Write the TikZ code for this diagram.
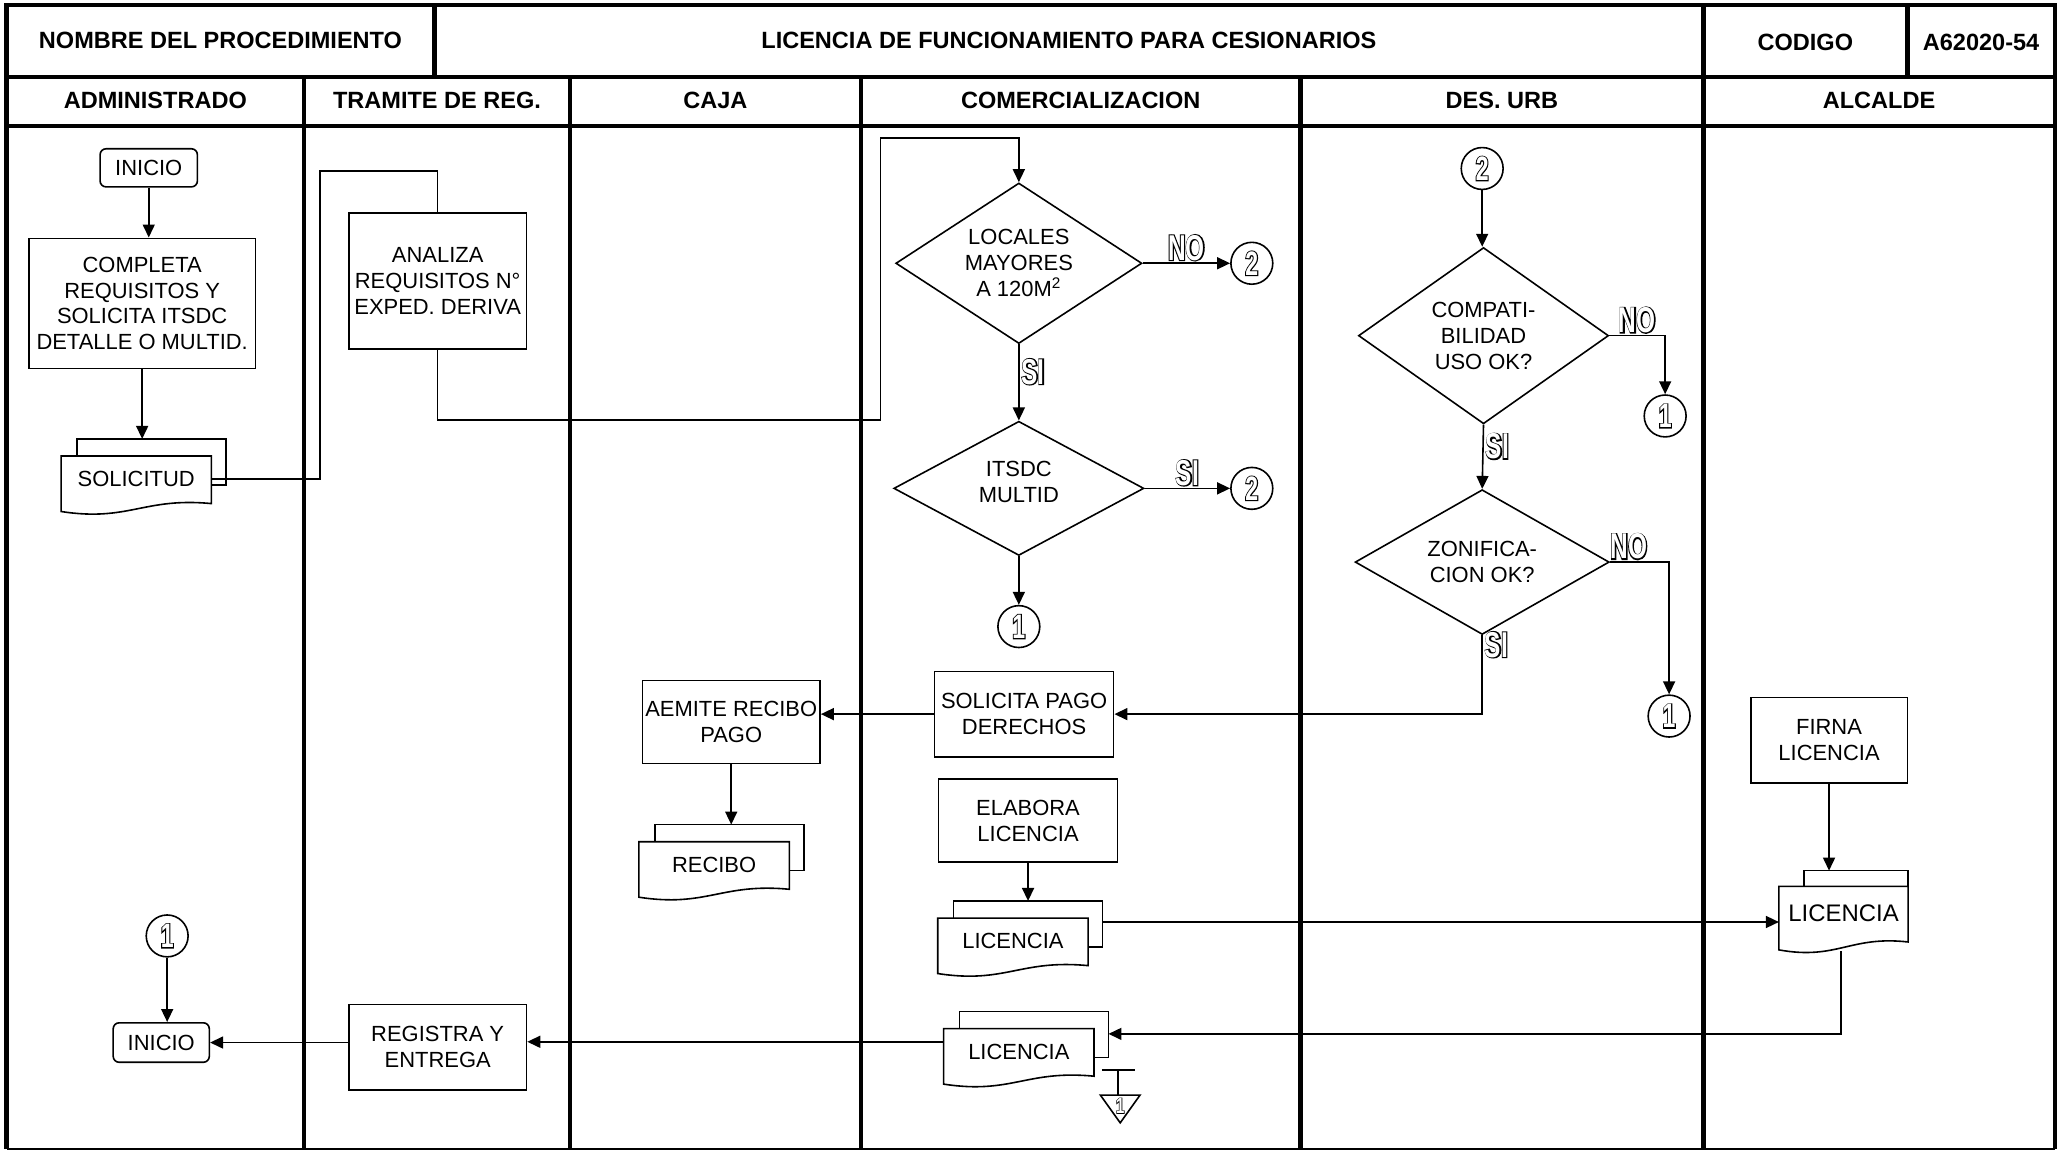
\documentclass[tikz,border=0pt]{standalone}
\usepackage{fontspec}
\setmainfont{Liberation Sans}
\usetikzlibrary{shapes.geometric,arrows.meta,calc}

% letras huecas (SI / NO / conectores)
\newfontfamily\hollowout{Liberation Sans}[FakeStretch=0.68,FakeBold=6]
\newfontfamily\hollowin{Liberation Sans}[FakeStretch=0.68]
\newcommand\hollow[1]{\makebox[0pt][l]{\hollowout\bfseries #1}{\color{white}\hollowin\bfseries #1}}

% hoja delantera del documento (borde ondulado)
\newcommand\docfront[1]{%
  \draw (#1.north west) -- (#1.north east) -- ($(#1.south east)+(0,1)$)
    .. controls ($(#1.south)!0.1!(#1.south east)+(0,-4)$) and ($(#1.south)!0.1!(#1.south west)+(0,15)$) .. ($(#1.south west)+(0,7)$) -- cycle;}
% hoja de atras
\newcommand\docback[1]{%
  \draw ($(#1.north west)+(12,0)$) -- ++(0,-13) -| ($(#1.north east)+(11,22)$) -- ($(#1.north east)+(0,22)$);}

\begin{document}
\begin{tikzpicture}[x=0.66pt,y=-0.66pt,line width=0.8pt,
  body/.style={font=\fontsize{11}{13}\selectfont},
  head/.style={font=\bfseries\fontsize{11.8}{14}\selectfont},
  box/.style={draw,align=center,inner sep=0pt,body},
  term/.style={box,rounded corners=3pt},
  dec/.style={draw,diamond,inner sep=0pt},
  conn/.style={draw,circle,minimum size=21pt,inner sep=0pt,font=\fontsize{17}{17}\selectfont},
  docu/.style={minimum width=74.6pt,minimum height=22.4pt,inner sep=0pt,body},
  yn/.style={font=\fontsize{18}{18}\selectfont,inner sep=1pt},
  arr/.style={-{Triangle[length=6.5pt,width=6pt]}},
  heavy/.style={line width=2.2pt}]
\useasboundingbox (0,0) rectangle (1568,874);

% marco y carriles
\draw[heavy] (5,873) -- (5,4) -- (1561,4) -- (1561,873);
\draw (5,873) -- (1561,873);
\draw[heavy] (5,58.5) -- (1561,58.5) (5,95.5) -- (1561,95.5);
\draw[heavy] (330,4) -- (330,58.5) (1449,4) -- (1449,58.5) (1294,4) -- (1294,873);
\draw[heavy] (231,58.5) -- (231,873) (433,58.5) -- (433,873) (654,58.5) -- (654,873) (988,58.5) -- (988,873);

% cabecera
\node[head] (hnom) at (167.5,31) {NOMBRE DEL PROCEDIMIENTO};
\node[head] (htit) at (812,31) {LICENCIA DE FUNCIONAMIENTO PARA CESIONARIOS};
\node[head] (hcod) at (1371.5,32) {CODIGO};
\node[head] (hnum) at (1505,32) {A62020-54};
\node[head] (hadm) at (118,76) {ADMINISTRADO};
\node[head] (htra) at (332,76) {TRAMITE DE REG.};
\node[head] (hcaj) at (543.5,76) {CAJA};
\node[head] (hcom) at (821,76) {COMERCIALIZACION};
\node[head] (hdes) at (1141,76) {DES. URB};
\node[head] (halc) at (1427.5,76) {ALCALDE};

% administrado
\node[term,minimum width=48.8pt,minimum height=19.1pt] (ini1) at (113,127.5) {INICIO};
\node[box,minimum width=113.5pt,minimum height=65.3pt] (comp) at (108,230.5) {COMPLETA\\REQUISITOS Y\\SOLICITA ITSDC\\DETALLE O MULTID.};
\node[docu] (sol) at (103.5,364) {SOLICITUD};
\docback{sol}
\docfront{sol}
\coordinate (solb) at ($(sol.north west)+(12,-13)$);
\draw[arr] (ini1) -- (ini1 |- comp.north);
\draw[arr] (comp.south) -- (comp.south |- solb);

\node[conn] (c1d) at (127,711) {\hollow{1}};
\node[term,minimum width=48.2pt,minimum height=19.8pt] (ini2) at (122.5,792) {INICIO};
\draw[arr] (c1d) -- (c1d |- ini2.north);

% tramite
\node[box,minimum width=89.1pt,minimum height=68pt] (anal) at (332.5,213.5) {ANALIZA\\REQUISITOS N°\\EXPED. DERIVA};
\node[box,minimum width=89.1pt,minimum height=42.9pt] (reg) at (332.5,795.5) {REGISTRA Y\\ENTREGA};
\draw (sol.east) -| (243,130) -| (anal.north);
\draw[arr] (reg.west |- ini2) -- (ini2.east);

% comercializacion
\node[dec,minimum width=123.4pt,minimum height=80.5pt,label={[body,align=center]center:LOCALES\\MAYORES\\A 120M\textsuperscript{2}}] (loc) at (774,200) {};
\node[dec,minimum width=125.4pt,minimum height=67.3pt,label={[body,align=center,yshift=3pt]center:ITSDC\\MULTID}] (its) at (774,371) {};
\node[conn] (c2a) at (951,200) {\hollow{2}};
\node[conn] (c2b) at (951,371) {\hollow{2}};
\node[conn] (c1a) at (774,476) {\hollow{1}};
\draw[arr] (anal.south) |- (669,319) -- (669,105) -| (loc.north);
\draw[arr] (loc.east) -- node[yn,above] {\hollow{NO}} (c2a);
\draw[arr] (loc.south) -- node[yn,right,pos=0.36] {\hollow{SI}} (its.north);
\draw[arr] (its.east) -- node[yn,above] {\hollow{SI}} (c2b);
\draw[arr] (its.south) -- (c1a);

\node[box,minimum width=89.8pt,minimum height=42.9pt] (pago) at (778,542.5) {SOLICITA PAGO\\DERECHOS};
\node[box,minimum width=89.8pt,minimum height=41.6pt] (elab) at (781,623.5) {ELABORA\\LICENCIA};
\node[docu] (lic1) at (769.5,715) {LICENCIA};
\docback{lic1}
\docfront{lic1}
\coordinate (lic1b) at ($(lic1.north west)+(12,-13)$);
\draw[arr] (elab.south) -- (elab.south |- lic1b);
\node[docu] (lic2) at (774,799) {LICENCIA};
\docback{lic2}
\docfront{lic2}

% conector fuera de pagina
\draw (837,813) -- (862,813) (849.5,813) -- (849.5,832);
\draw (836,832) -- (866,832) -- (851,853) -- cycle;
\node[font=\fontsize{11}{11}\selectfont,inner sep=0pt] (fin) at (851,840) {\hollow{1}};

% caja
\node[box,minimum width=89.1pt,minimum height=41.6pt] (emite) at (555.5,548.5) {AEMITE RECIBO\\PAGO};
\node[docu] (rec) at (542.5,657) {RECIBO};
\docback{rec}
\docfront{rec}
\coordinate (recb) at ($(rec.north west)+(12,-13)$);
\draw[arr] (pago.west) -- (pago.west -| emite.east);
\draw[arr] (emite.south) -- (emite.south |- recb);

% des. urb
\node[conn] (c2c) at (1126,128) {\hollow{2}};
\node[dec,minimum width=125.4pt,minimum height=88.4pt,label={[body,align=center]center:COMPATI-\\BILIDAD\\USO OK?}] (comp2) at (1127,255) {};
\node[conn] (c1b) at (1265,316) {\hollow{1}};
\node[dec,minimum width=127.4pt,minimum height=72.6pt,label={[body,align=center]center:ZONIFICA-\\CION OK?}] (zon) at (1126,427) {};
\node[conn] (c1c) at (1268,544) {\hollow{1}};
\draw[arr] (c2c) -- (c2c |- comp2.north);
\draw[arr] (comp2.east) -| node[yn,above,pos=0.25] {\hollow{NO}} (c1b);
\draw[arr] (comp2.south) -- node[yn,right,pos=0.34] {\hollow{SI}} (zon.north);
\draw[arr] (zon.east) -| node[yn,above,pos=0.16] {\hollow{NO}} (c1c);
\draw[arr] (zon.south) |- node[yn,right,pos=0.06] {\hollow{SI}} (pago.east);

% alcalde
\node[box,minimum width=78.5pt,minimum height=42.9pt] (firna) at (1389.5,562.5) {FIRNA\\LICENCIA};
\node[docu,minimum width=64pt,minimum height=26.4pt,font=\fontsize{12}{14}\selectfont] (lic3) at (1400.5,694) {LICENCIA};
\draw ($(lic3.north west)+(19,0)$) -- ++(0,-12) -| (lic3.north east);
\docfront{lic3}
\coordinate (lic3b) at ($(lic3.north west)+(19,-12)$);
\draw[arr] (firna.south) -- (firna.south |- lic3b);

% recorrido de la licencia
\coordinate (l1out) at ($(lic1.north east)+(11,3)$);
\coordinate (l2in) at ($(lic2.north east)+(11,4)$);
\coordinate (l2out) at ($(lic2.north west)+(0,10)$);
\coordinate (lic3s) at ($(lic3.south)+(-2,8)$);
\draw[arr] (l1out) -- (l1out -| lic3.west);
\draw[arr] (lic3s) |- (l2in);
\draw[arr] (l2out) -- (l2out -| reg.east);

\end{tikzpicture}
\end{document}
